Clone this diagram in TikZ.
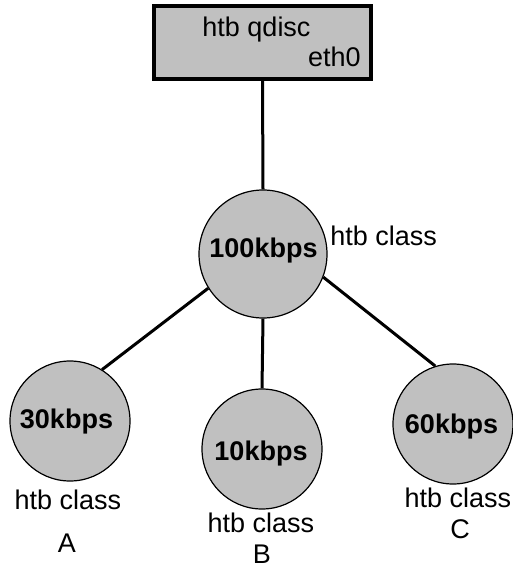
\documentclass[tikz,border=0pt]{standalone}
\usepackage{fontspec}
\setmainfont{Liberation Sans}
\usetikzlibrary{positioning}

\definecolor{boxgray}{RGB}{192,192,192}

\tikzset{
  qbox/.style={draw, line width=2pt, fill=boxgray, minimum width=108.5pt, minimum height=36.5pt, inner sep=0pt},
  classnode/.style={circle, draw, line width=0.6pt, fill=boxgray, inner sep=0pt, font=\fontsize{13.5}{16}\selectfont\bfseries},
  bignode/.style={classnode, minimum size=64pt},
  leafnode/.style={classnode, minimum size=60pt},
  txt/.style={inner sep=0pt, font=\fontsize{13.5}{16}\selectfont},
  link/.style={line width=1.5pt}
}

\begin{document}
\begin{tikzpicture}[x=0.5pt,y=-0.5pt]
\useasboundingbox (0,0) rectangle (513,567);
% root qdisc
\path node[qbox] (qdisc) at (262.5,42.5) {};
\path node[txt, anchor=base] (qname) at (256.5,37) {htb qdisc};
\path node[txt, anchor=base east] (qdev) at (361,67) {eth0};
% classes
\path node[bignode] (root) at (263,254) {};
\path node[txt, anchor=base] (rootrate) at (263.5,257) {\bfseries 100kbps};
\path node[txt, anchor=base west] (rootlbl) at (330,245) {htb class};
\path node[leafnode] (a) at (70,421) {};
\path node[leafnode] (b) at (262,449) {};
\path node[leafnode] (c) at (453,424) {};
\path node[txt, anchor=base] (arate) at (66.5,428) {\bfseries 30kbps};
\path node[txt, anchor=base] (brate) at (261,460) {\bfseries 10kbps};
\path node[txt, anchor=base] (crate) at (451.5,433) {\bfseries 60kbps};
% labels
\path node[txt, anchor=base] (albl) at (68,509) {htb class};
\path node[txt, anchor=base] (aname) at (67,552) {A};
\path node[txt, anchor=base] (blbl) at (261,532) {htb class};
\path node[txt, anchor=base] (bname) at (262,563) {B};
\path node[txt, anchor=base] (clbl) at (458,507) {htb class};
\path node[txt, anchor=base] (cname) at (460,538) {C};
% links
\path[link] (qdisc.south) edge (root.north);
\path[link] (root.212) edge (a.58);
\path[link] (root.south) edge (b.north);
\path[link] (root.-21) edge (c.107);
\end{tikzpicture}
\end{document}
